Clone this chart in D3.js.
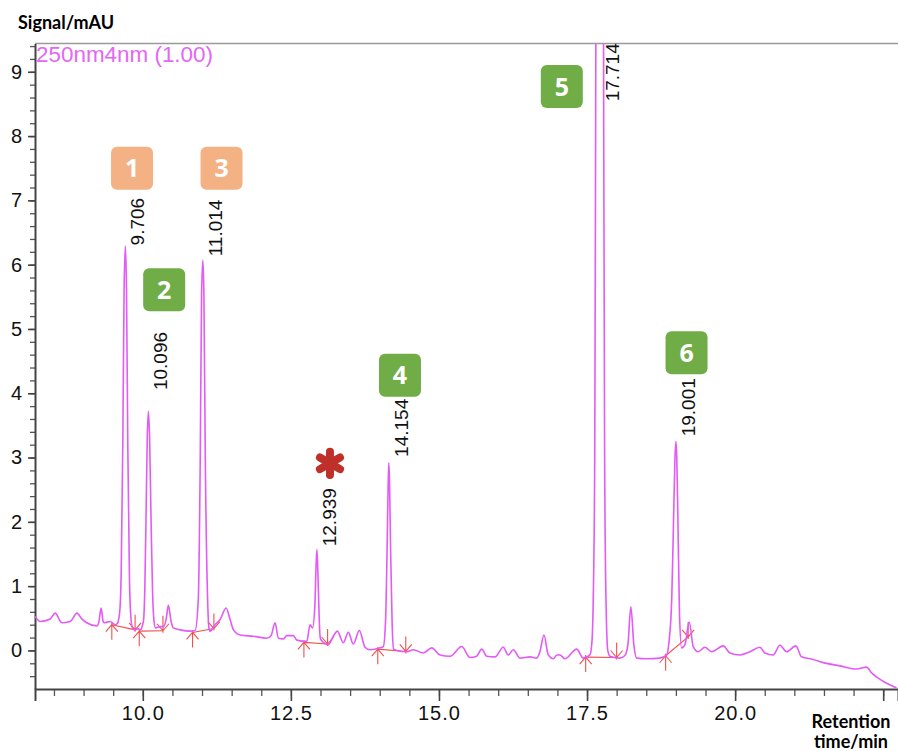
<!DOCTYPE html>
<html>
<head>
<meta charset="utf-8">
<script src="https://cdn.jsdelivr.net/npm/d3@7"></script>
<style>
  body { margin: 0; background: #fff; }
  svg { display: block; }
</style>
</head>
<body>
<div id="container"></div>
<script>
const width = 898;
const height = 751;
const marginTop = 43.5;
const marginRight = 0;
const marginBottom = 62;
const marginLeft = 35;

// chromatogram trace (min, mAU)
const traceTime = [
  8.182, 8.267, 8.436, 8.52, 8.633, 8.775, 8.888, 8.97, 9.055, 9.224, 9.26, 9.296, 9.33, 9.347, 9.448, 9.533,
  9.57, 9.61, 9.635, 9.662, 9.684, 9.706, 9.725, 9.747, 9.775, 9.80, 9.825, 9.87, 9.92, 9.954,
  10.01, 10.035, 10.055, 10.075, 10.096, 10.115, 10.14, 10.165, 10.19, 10.215, 10.292, 10.348,
  10.393, 10.432, 10.478, 10.516, 10.63, 10.798, 10.883,
  10.937, 10.97, 10.992, 11.014, 11.032, 11.055, 11.094, 11.12, 11.136, 11.22, 11.305, 11.406, 11.474,
  11.53, 11.642, 11.867, 12.093, 12.165, 12.233, 12.289, 12.373, 12.43, 12.542, 12.6, 12.768, 12.824, 12.866,
  12.905, 12.925, 12.939, 12.953, 12.975, 12.99, 13.004, 13.132, 13.217, 13.284, 13.386, 13.47, 13.554,
  13.656, 13.752, 13.836, 14.005,
  14.061, 14.1, 14.125, 14.143, 14.154, 14.166, 14.185, 14.21, 14.235, 14.287, 14.456, 14.567, 14.736,
  14.878, 15.018, 15.187, 15.384, 15.524, 15.637, 15.722, 15.806, 15.946, 16.086, 16.17, 16.255, 16.368,
  16.537, 16.65, 16.705, 16.773, 16.845, 16.93, 16.992, 17.043, 17.127, 17.325, 17.436, 17.549,
  17.58, 17.605, 17.63, 17.645, 17.665, 17.69, 17.714, 17.74, 17.765, 17.782, 17.797, 17.82, 17.85,
  17.887, 18.056, 18.14, 18.19, 18.24, 18.29, 18.338, 18.506, 18.731, 18.844,
  18.88, 18.93, 18.96, 18.985, 19.001, 19.015, 19.035, 19.06, 19.097, 19.153, 19.225, 19.293, 19.377,
  19.49, 19.603, 19.799, 19.912, 20.081, 20.25, 20.419, 20.503, 20.643, 20.756, 20.869, 21.026, 21.122,
  21.318, 21.487, 21.769, 22.05, 22.219, 22.304, 22.5, 22.726
];
const traceSignal = [
  0.53, 0.45, 0.49, 0.58, 0.43, 0.45, 0.58, 0.49, 0.43, 0.38, 0.45, 0.66, 0.45, 0.43, 0.45, 0.40,
  0.42, 0.6, 1.2, 3.17, 5.6, 6.29, 5.6, 3.17, 1.1, 0.5, 0.35, 0.32, 0.34, 0.32,
  0.45, 1.0, 2.1, 3.3, 3.72, 3.3, 2.0, 0.9, 0.45, 0.35, 0.37, 0.37,
  0.48, 0.70, 0.45, 0.35, 0.32, 0.30, 0.31,
  0.8, 3.0, 5.5, 6.07, 5.5, 3.0, 0.8, 0.33, 0.30, 0.40, 0.48, 0.66, 0.48,
  0.32, 0.24, 0.22, 0.19, 0.23, 0.43, 0.19, 0.18, 0.23, 0.23, 0.16, 0.14, 0.40, 0.35,
  0.7, 1.3, 1.57, 1.3, 0.6, 0.25, 0.17, 0.09, 0.22, 0.30, 0.12, 0.28, 0.10,
  0.31, 0.05, 0.01, 0.04,
  0.06, 0.5, 1.6, 2.6, 2.92, 2.6, 1.5, 0.4, 0.02, 0.0, -0.02, 0.01, -0.04,
  0.04, -0.07, -0.09, 0.06, -0.11, -0.09, 0.02, -0.09, -0.10, 0.05, -0.07, 0.01, -0.12,
  -0.10, -0.12, -0.02, 0.24, -0.07, -0.13, -0.07, -0.07, -0.13, 0.02, -0.12, -0.07,
  0.1, 0.8, 3.0, 8.0, 16, 22, 24, 22, 16, 8, 3.0, 0.8, 0.0,
  -0.09, -0.12, -0.08, 0.09, 0.68, 0.09, -0.12, -0.13, -0.12, -0.07,
  0.1, 0.8, 2.0, 3.0, 3.25, 3.0, 2.0, 0.6, 0.04, 0.09, 0.44, 0.06, -0.02,
  0.05, -0.02, 0.07, -0.04, -0.07, -0.02, 0.05, -0.04, -0.07, 0.08, -0.02, 0.07, -0.10,
  -0.14, -0.19, -0.24, -0.29, -0.26, -0.35, -0.48, -0.585
];

// labelled peaks: retention time and where its label starts
const peakTimes = [9.706, 10.096, 11.014, 12.939, 14.154, 17.714, 19.001];
const peakLabelAt = [6.3, 4.05, 6.13, 1.62, 3.01, 8.54, 3.33];

// numbered compound boxes (placed in data units)
const boxNames = ["1", "2", "3", "4", "5", "6"];
const boxTime = [9.818, 10.361, 11.329, 14.342, 17.074, 19.18];
const boxSignal = [7.50, 5.61, 7.50, 4.28, 8.77, 4.63];
const boxGroup = ["a", "b", "a", "b", "b", "b"];

// impurity asterisk
const starTime = [13.16];
const starSignal = [2.91];

// integration baselines
const baseStartTime = [9.477, 9.94, 10.84, 12.72, 13.967, 17.477, 18.827];
const baseStartSignal = [0.40, 0.30, 0.28, 0.125, 0.02, -0.104, -0.083];
const baseEndTime = [9.87, 10.34, 11.2, 13.12, 14.44, 18.0, 19.207];
const baseEndSignal = [0.32, 0.306, 0.34, 0.10, -0.016, -0.11, 0.21];

const xTicks = [10, 12.5, 15, 17.5, 20, 22.5];
const yTicks = [0, 1, 2, 3, 4, 5, 6, 7, 8, 9];

const trace = traceTime.map((t, i) => ({t, s: traceSignal[i]}));

const x = d3.scaleLinear()
  .domain([8.18, 22.75])
  .range([marginLeft, width - marginRight]);

const y = d3.scaleLinear()
  .domain([-0.6, 9.44])
  .range([height - marginBottom, marginTop]);

const boxColor = d3.scaleOrdinal()
  .domain(["a", "b"])
  .range(["#f4b183", "#70ad47"]);

const svg = d3.create("svg")
  .attr("width", width)
  .attr("height", height)
  .attr("viewBox", [0, 0, width, height]);

svg.append("defs").append("clipPath")
  .attr("id", "plot")
  .append("rect")
  .attr("x", marginLeft)
  .attr("y", marginTop)
  .attr("width", width - marginLeft - marginRight)
  .attr("height", height - marginTop - marginBottom);

// top frame line
svg.append("line")
  .attr("x1", marginLeft).attr("x2", width)
  .attr("y1", marginTop).attr("y2", marginTop)
  .attr("stroke", "#9a9a9a")
  .attr("stroke-width", 1.5);

// minor ticks
svg.append("g")
  .attr("transform", `translate(0,${height - marginBottom})`)
  .call(d3.axisBottom(x).tickValues(d3.range(8.5, 22.6, 0.5)).tickSize(7).tickFormat(""))
  .call(g => g.select(".domain").remove())
  .call(g => g.selectAll("line").attr("stroke", "#555").attr("stroke-width", 1.3));

svg.append("g")
  .attr("transform", `translate(${marginLeft},0)`)
  .call(d3.axisLeft(y).tickValues(d3.range(-0.4, 9.41, 0.2)).tickSize(5).tickFormat(""))
  .call(g => g.select(".domain").remove())
  .call(g => g.selectAll("line").attr("stroke", "#555").attr("stroke-width", 1.3));

// major axes
svg.append("g")
  .attr("transform", `translate(0,${height - marginBottom})`)
  .call(d3.axisBottom(x).tickValues(xTicks).tickSize(12).tickPadding(5)
    .tickFormat(d => d < 22 ? d3.format(".1f")(d) : ""))
  .call(g => g.select(".domain").attr("stroke", "#444").attr("stroke-width", 2))
  .call(g => g.selectAll("line").attr("stroke", "#444").attr("stroke-width", 1.6))
  .call(g => g.selectAll("text")
    .attr("fill", "#111")
    .attr("font-family", "'Liberation Sans', Arial, sans-serif")
    .attr("font-size", 20)
    .attr("letter-spacing", 1));

svg.append("g")
  .attr("transform", `translate(${marginLeft},0)`)
  .call(d3.axisLeft(y).tickValues(yTicks).tickSize(7).tickPadding(6).tickSizeOuter(0))
  .call(g => g.select(".domain").attr("stroke", "#444").attr("stroke-width", 2))
  .call(g => g.selectAll("line").attr("stroke", "#444").attr("stroke-width", 1.6))
  .call(g => g.selectAll("text")
    .attr("fill", "#111")
    .attr("font-family", "'Liberation Sans', Arial, sans-serif")
    .attr("font-size", 20));

// axis titles
svg.append("text")
  .attr("x", 18).attr("y", 29)
  .attr("font-family", "Lato, 'Open Sans', sans-serif")
  .attr("font-weight", "bold")
  .attr("font-size", 18)
  .text("Signal/mAU");

svg.append("text")
  .attr("x", 851).attr("y", 728)
  .attr("text-anchor", "middle")
  .attr("font-family", "Lato, 'Open Sans', sans-serif")
  .attr("font-weight", "bold")
  .attr("font-size", 18)
  .call(t => t.append("tspan").attr("x", 851).text("Retention"))
  .call(t => t.append("tspan").attr("x", 851).attr("dy", 20).text("time/min"));

// channel legend
svg.append("text")
  .attr("x", 36).attr("y", 62)
  .attr("fill", "#e466f5")
  .attr("font-family", "'Liberation Sans', Arial, sans-serif")
  .attr("font-size", 22)
  .attr("textLength", 177)
  .attr("lengthAdjust", "spacingAndGlyphs")
  .text("250nm4nm (1.00)");

const plot = svg.append("g").attr("clip-path", "url(#plot)");

// integration baselines and markers
const red = "#f0504a";
const base = plot.append("g")
  .attr("stroke", red)
  .attr("stroke-width", 1.1)
  .attr("fill", "none");

base.selectAll("line.base")
  .data(baseStartTime)
  .join("line")
  .attr("class", "base")
  .attr("x1", (d, i) => x(d))
  .attr("y1", (d, i) => y(baseStartSignal[i]))
  .attr("x2", (d, i) => x(baseEndTime[i]))
  .attr("y2", (d, i) => y(baseEndSignal[i]));

base.selectAll("path.start")
  .data(baseStartTime)
  .join("path")
  .attr("class", "start")
  .attr("d", (d, i) => {
    const px = x(d), py = y(baseStartSignal[i]);
    return `M${px},${py - 2}V${py + 15}M${px - 6},${py + 7}L${px},${py}L${px + 6},${py + 7}`;
  });

base.selectAll("path.end")
  .data(baseEndTime)
  .join("path")
  .attr("class", "end")
  .attr("d", (d, i) => {
    const px = x(d), py = y(baseEndSignal[i]);
    return `M${px},${py + 2}V${py - 15}M${px - 6},${py - 7}L${px},${py}L${px + 6},${py - 7}`;
  });

// trace
plot.append("path")
  .datum(trace)
  .attr("fill", "none")
  .attr("stroke", "#e35af6")
  .attr("stroke-width", 1.6)
  .attr("stroke-linejoin", "round")
  .attr("d", d3.line()
    .x(d => x(d.t))
    .y(d => y(d.s))
    .curve(d3.curveMonotoneX));

// peak retention time labels
svg.append("g")
  .selectAll("text")
  .data(peakTimes)
  .join("text")
  .attr("transform", (d, i) => `translate(${x(d) + 19},${y(peakLabelAt[i])}) rotate(-90)`)
  .attr("font-family", "'Liberation Sans', Arial, sans-serif")
  .attr("font-size", 19)
  .attr("fill", "#111")
  .text(d => d3.format(".3f")(d));

// compound boxes
const boxes = svg.append("g")
  .selectAll("g")
  .data(boxNames)
  .join("g")
  .attr("transform", (d, i) => `translate(${x(boxTime[i])},${y(boxSignal[i])})`);

boxes.append("rect")
  .attr("x", -21).attr("y", -21.5)
  .attr("width", 42).attr("height", 43)
  .attr("rx", 6)
  .attr("fill", (d, i) => boxColor(boxGroup[i]));

boxes.append("text")
  .attr("text-anchor", "middle")
  .attr("dy", "0.36em")
  .attr("fill", "#fff")
  .attr("font-family", "'Open Sans', Lato, sans-serif")
  .attr("font-weight", "bold")
  .attr("font-size", 25)
  .text(d => d);

// impurity asterisk
svg.append("g")
  .selectAll("path")
  .data(starTime)
  .join("path")
  .attr("transform", (d, i) => `translate(${x(d)},${y(starSignal[i])})`)
  .attr("d", d3.symbol(d3.symbolAsterisk, 380))
  .attr("fill", "none")
  .attr("stroke", "#c0302a")
  .attr("stroke-width", 8)
  .attr("stroke-linecap", "round");

document.getElementById("container").appendChild(svg.node());
</script>
</body>
</html>
